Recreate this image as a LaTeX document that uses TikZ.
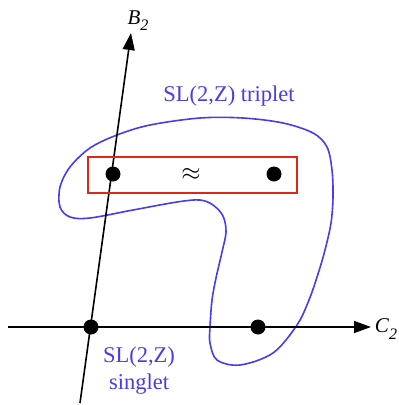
\documentclass[tikz,border=0pt]{standalone}
\usepackage{fontspec}
\setmainfont{Liberation Serif}
\usetikzlibrary{arrows.meta}
\definecolor{curveblue}{RGB}{70,60,240}
\definecolor{boxred}{RGB}{220,40,20}
\begin{document}
\begin{tikzpicture}[x=1pt,y=-1pt,
  dot/.style={circle,fill=black,inner sep=0pt,minimum size=15pt},
  axis/.style={line width=1.6pt,-{Triangle[length=17pt,width=12pt]}},
  lbl/.style={text=curveblue,font=\fontsize{22.5}{27}\selectfont,align=center,inner sep=0pt},
  axlbl/.style={inner sep=0pt,font=\fontsize{21}{21}\selectfont\itshape}]
\useasboundingbox (0,0) rectangle (399,405);
% blue curve
\draw[curveblue,line width=1.6pt] plot[smooth cycle,tension=0.55] coordinates {
(117,135) (150,125) (200,118) (243,118) (283,123) (313,133) (327,147) (332,170)
(333,197) (331,223) (325,250) (318,274) (309,300) (297,325) (273,353) (240,365)
(217,360) (210,343) (210,327) (212,300) (216,278) (222,252) (226,232) (223,216)
(213,205) (200,200) (177,202) (133,210) (90,218) (70,217) (60,207) (60,187)
(70,167) (90,148)};
% axes
\coordinate (bstart) at (80,403);
\coordinate (bend) at (131,33);
\coordinate (cstart) at (8,327);
\coordinate (cend) at (371,327);
\draw[axis] (cstart) -- (cend);
\draw[axis] (bstart) -- (bend);
\node[axlbl] (blab) at (138,21) {B\raisebox{-6pt}{\fontsize{16}{16}\selectfont 2}};
\node[axlbl] (clab) at (386,329) {C\raisebox{-7pt}{\fontsize{16}{16}\selectfont 2}};
% red box
\node[draw=boxred,line width=1.4pt,minimum width=209pt,minimum height=36pt,inner sep=0pt] (box) at (192.5,175) {};
\node[inner sep=0pt,font=\fontsize{28}{30}\selectfont] (approx) at (191,174) {$\approx$};
% dots
\node[dot] (d1) at (91,327) {};
\node[dot] (d2) at (258,327) {};
\node[dot] (d3) at (113,174) {};
\node[dot] (d4) at (274,174) {};
% labels
\node[lbl] (trip) at (229,96) {SL(2,Z) triplet};
\node[lbl] (sing) at (139,371) {SL(2,Z)\\singlet};
\end{tikzpicture}
\end{document}
